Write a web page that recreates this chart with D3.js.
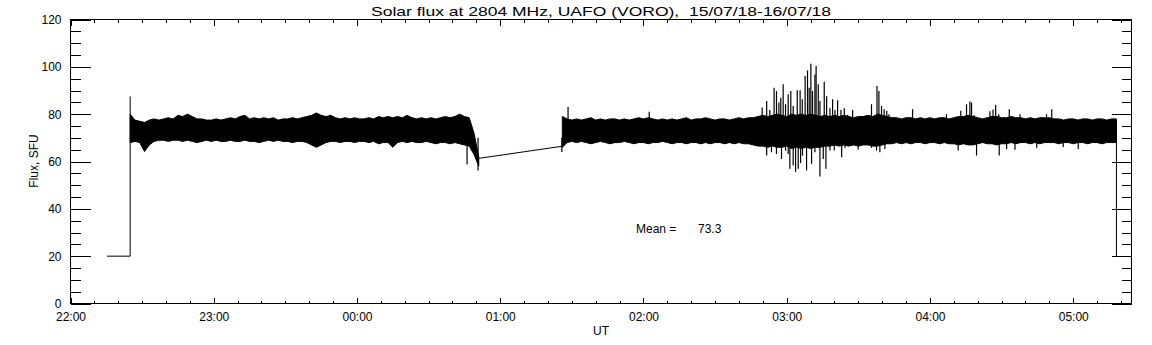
<!DOCTYPE html>
<html><head><meta charset="utf-8">
<script src="https://cdn.jsdelivr.net/npm/d3@7"></script>
<style>
html,body{margin:0;padding:0;background:#fff;}
svg{display:block;}
text{font-family:"Liberation Sans",Arial,sans-serif;fill:#000;}
</style></head>
<body>
<svg id="c" width="1152" height="345"></svg>
<script>
// ---- data (time in minutes after 22:00 UT, 15/07/18) ----
const title = "Solar flux at 2804 MHz, UAFO (VORO),\u00a0\u00a015/07/18-16/07/18";
const yLabel = "Flux, SFU";
const xLabel = "UT";
const meanLabel = "Mean =";
const meanValue = "73.3";
const xTickLabels = ["22:00","23:00","00:00","01:00","02:00","03:00","04:00","05:00"];
const yTickValues = [0,20,40,60,80,100,120];

// leading / gap / trailing connector lines
const preTimes = [15.3, 25, 25];
const preValues = [20, 20, 87.5];
const gapTimes = [170.8, 205.7];
const gapValues = [61.3, 66.4];
const endTimes = [438.1, 438.1];
const endValues = [78, 20];

// noise band envelope, segment 1 (sampled every 2 min from 22:25)
const seg1Start = 25, seg1Step = 2;
const seg1Hi = [80,77.5,77,76.5,77.5,78,77.5,78,78.5,78,79.5,79,80,79,78,78,77.5,77.5,78,77.5,78,78.5,78,79,79.5,78,78.5,78,78.5,78,78.5,77.5,78,78,78.5,78,78.5,79,79.5,80.5,79.5,79,79.5,78.5,78,78.5,78,78.5,78,78,78.5,78,79,78.5,79,78.5,79,78.5,79.5,78.5,78,78.5,78,78.5,78,78.5,79,78.5,79,80,79,78.5,72,62];
const seg1Lo = [68,68.5,68,64.2,67,68.5,69,69,68.5,69,69,68.5,69,68.5,68,68.5,69,68.5,69,68.5,68.5,69,68.5,68.5,69,68.5,68.5,68,68.5,69,68.5,69,68.5,68.5,68,68.5,68.5,68,67,66,67,68,68.5,68.5,68,68.5,68.5,68,68.5,68.5,68,68.5,67.5,68,68,66,68,68.5,68,68.5,68,68,68.5,68,67.5,68,68,67.5,68,67.5,67,66.5,63,58];
// segment 2 (sampled every 2 min from 01:26)
const seg2Start = 206, seg2Step = 2;
const seg2Hi = [79,78,77.5,78,77.5,78,78.5,77.5,78,77.5,78,78,77.5,78,77.5,78,78.5,78,78.5,78,77.5,78,77.5,78,77.5,78,78.5,77.5,78,78,78.5,78,77.5,78,78,77.5,78,78.5,78,78.5,78.5,79,79.5,79,79.5,80,79.5,79,80,79.5,80,79.5,80,79.5,79,79.5,79,79.5,79,79.5,79,78.5,79,79,79.5,79,80,79.5,79,78.5,78.5,78,78.5,78.5,78,78.5,78,78.5,78,78.5,78.5,78,78.5,79,79,79.5,79,78.5,78,78.5,79,79,78.5,78.5,79,78.5,78.5,78,78.5,78,78.5,78.5,78.5,78,78,77.5,78,78,77.5,78,78,77.5,78,78,77.5,78,78];
const seg2Lo = [66,68,68.5,68,68.5,68,67.5,68,68.5,68,67.5,68,68,68.5,68,67.5,68,68,67.5,68,68,68.5,68,67.5,68,68,67.5,68,68,67.5,68,67.5,68,68,67.5,68,67.5,68,67.5,67.5,67,66.5,66.5,66,66.5,66,66,66.5,65.5,66,65.5,66,65.5,66,66,66.5,66.5,67,66.5,67,66.5,67,66.5,67,67,66.5,66.5,67,67.5,67.5,68,67.5,68,67.5,68,68,67.5,68,68,67.5,68,67.5,67.5,67,67.5,67,67,67.5,68,67.5,67.5,67,67.5,67.5,68,67.5,68,68,67.5,68,67.5,68,68,68,67.5,68,68,67.5,68,68,67.5,68,68,67.5,68,68,68];

// isolated spikes above the band
const upSpikeTimes = [208.4,242.4,289.7,291.6,292.9,294.7,295.7,296.7,297.5,298.5,299.5,300.6,301.7,302.7,304.4,305.6,306.5,307.7,308.7,309.4,310.1,310.8,311.8,312.3,313.2,313.9,315.7,316.7,318.1,319.2,320.2,321.3,322.7,324.1,325.5,327.6,335.5,337.8,338.6,339.7,340.8,341.9,342.8,352.7,366.9,372.9,375.3,376.7,377.4,378.5,385.1,386.4,387.5,388.8,393.2,397.7,408.8,411];
const upSpikeValues = [83,81,82.8,85.6,81.8,91.2,89.8,84.9,86.9,92.6,84.2,88.4,89.8,83.5,90.1,90.1,86.3,96.1,98.5,91.2,101.3,89.8,96.8,100.3,92.6,85.6,93.7,87.6,82.5,86.3,81.8,85.9,81.8,82.5,79.7,81.8,84.2,91.9,89.8,83.5,82.1,81.4,80,82.1,80,81.4,84.2,85.3,84.9,79.7,81.2,82,83.9,80,82.1,80,80,82.1];
// isolated spikes below the band
const downSpikeTimes = [166.1,170.7,205.8,291.6,293.6,295.7,297.8,299.5,300.6,301.3,302.7,303.7,304.8,305.8,306.6,308.3,309.3,310.4,311.8,313.2,313.9,315.3,316.4,318.1,319.9,323,324.4,329.9,335.5,337.6,339,341.1,371.8,379.5,389,392.1,395.6,404.7,415.8,422.1];
const downSpikeValues = [58.7,56.2,64,62.5,63.9,63.2,61.1,64.6,63.2,56.9,58.3,55.5,56.9,59.3,62.5,56.2,65.8,59,63.9,65.8,53.7,61.1,56.9,64.6,64.6,61.8,65.8,65.1,65.8,64.6,63.9,65.3,64.6,62.5,62.5,65.3,65,65.8,66.1,65.3];

// ---- drawing ----
const t0 = Date.UTC(2018, 6, 15, 22, 0, 0);
const toDate = m => new Date(t0 + m * 60000);
const L = 70.5, R = 1131.5, T = 19.5, B = 303.5;
const svg = d3.select("#c");
const x = d3.scaleUtc().domain([toDate(0), toDate(444.4)]).range([L, R]);
const y = d3.scaleLinear().domain([0, 120]).range([B, T]);

const hourTicks = d3.utcHour.every(1).range(toDate(0), toDate(444.5));
const minorX = d3.utcMinute.every(10).range(toDate(0), toDate(444.5));
const minorY = d3.range(0, 121, 5);

function styleAxis(g){ g.select(".domain").remove(); g.selectAll("line").attr("stroke","#000").attr("shape-rendering","crispEdges"); }

// x axes
svg.append("g").attr("transform",`translate(0,${B})`)
  .call(d3.axisBottom(x).tickValues(minorX).tickSize(-3).tickFormat("")).call(styleAxis);
const gx = svg.append("g").attr("transform",`translate(0,${B})`)
  .call(d3.axisBottom(x).tickValues(hourTicks).tickSize(-6).tickPadding(9).tickFormat((d,i)=>xTickLabels[i])).call(styleAxis);
gx.selectAll("text").attr("font-size",12).attr("font-family","Liberation Sans, Arial, sans-serif");
svg.append("g").attr("transform",`translate(0,${T})`)
  .call(d3.axisTop(x).tickValues(minorX).tickSize(-3).tickFormat("")).call(styleAxis);
svg.append("g").attr("transform",`translate(0,${T})`)
  .call(d3.axisTop(x).tickValues(hourTicks).tickSize(-6).tickFormat("")).call(styleAxis);

// y axes
svg.append("g").attr("transform",`translate(${L},0)`)
  .call(d3.axisLeft(y).tickValues(minorY).tickSize(-10).tickFormat("")).call(styleAxis);
const gy = svg.append("g").attr("transform",`translate(${L},0)`)
  .call(d3.axisLeft(y).tickValues(yTickValues).tickSize(-20).tickPadding(9).tickFormat(d3.format("d"))).call(styleAxis);
gy.selectAll("text").attr("font-size",12).attr("font-family","Liberation Sans, Arial, sans-serif");
svg.append("g").attr("transform",`translate(${R},0)`)
  .call(d3.axisRight(y).tickValues(minorY).tickSize(-10).tickFormat("")).call(styleAxis);
svg.append("g").attr("transform",`translate(${R},0)`)
  .call(d3.axisRight(y).tickValues(yTickValues).tickSize(-20).tickFormat("")).call(styleAxis);

// frame
svg.append("rect").attr("x",L).attr("y",T).attr("width",R-L).attr("height",B-T)
  .attr("fill","none").attr("stroke","#000").attr("shape-rendering","crispEdges");

// data
const plot = svg.append("g");
const line = d3.line().x(d=>x(toDate(d[0]))).y(d=>y(d[1]));
[[preTimes,preValues],[gapTimes,gapValues],[endTimes,endValues]].forEach(([ts,vs])=>{
  plot.append("path").attr("d", line(ts.map((t,i)=>[t,vs[i]])))
    .attr("fill","none").attr("stroke","#000").attr("stroke-width",1);
});
const area = d3.area().x(d=>x(toDate(d.t))).y0(d=>y(d.lo)).y1(d=>y(d.hi));
[[seg1Start,seg1Step,seg1Hi,seg1Lo],[seg2Start,seg2Step,seg2Hi,seg2Lo]].forEach(([s,st,hi,lo])=>{
  const pts = hi.map((h,i)=>({t:s+i*st, hi:h, lo:lo[i]}));
  plot.append("path").attr("d", area(pts)).attr("fill","#000").attr("stroke","#000").attr("stroke-width",1);
});
plot.selectAll(".up").data(upSpikeTimes).enter().append("line")
  .attr("x1",t=>x(toDate(t))).attr("x2",t=>x(toDate(t)))
  .attr("y1",y(75)).attr("y2",(t,i)=>y(upSpikeValues[i]))
  .attr("stroke","#000").attr("stroke-width",1.2);
plot.selectAll(".dn").data(downSpikeTimes).enter().append("line")
  .attr("x1",t=>x(toDate(t))).attr("x2",t=>x(toDate(t)))
  .attr("y1",y(70)).attr("y2",(t,i)=>y(downSpikeValues[i]))
  .attr("stroke","#000").attr("stroke-width",1.2);

// texts
svg.append("text").attr("x",(L+R)/2).attr("y",16).attr("text-anchor","middle")
  .attr("font-size",13).attr("textLength",460).attr("lengthAdjust","spacingAndGlyphs").text(title);
svg.append("text").attr("transform","translate(38,161) rotate(-90)").attr("text-anchor","middle")
  .attr("font-size",12).text(yLabel);
svg.append("text").attr("x",(L+R)/2).attr("y",335).attr("text-anchor","middle")
  .attr("font-size",12).text(xLabel);
const mean = svg.append("text").attr("y",232.5).attr("font-size",12);
mean.append("tspan").attr("x",636).text(meanLabel);
mean.append("tspan").attr("x",698).text(meanValue);
</script>
</body></html>
